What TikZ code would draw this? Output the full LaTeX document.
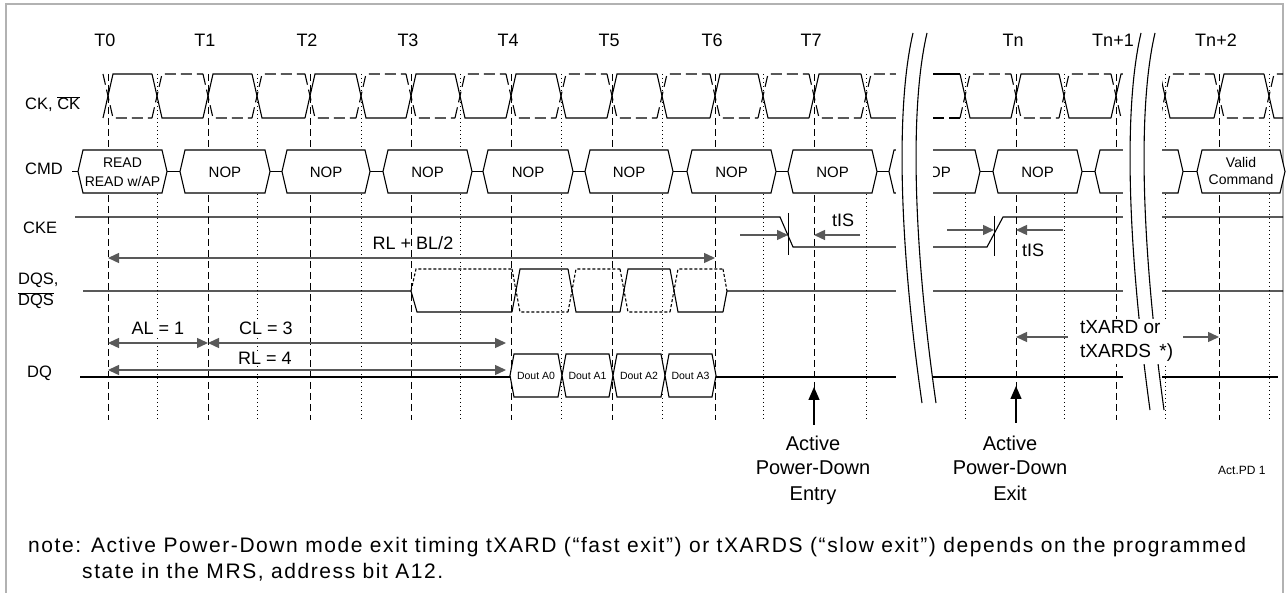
\documentclass[tikz,border=0pt]{standalone}
\usepackage{fontspec}
\setmainfont{Liberation Sans}
\newfontfamily\notefont[LetterSpace=7.5]{Liberation Sans}
\usetikzlibrary{arrows.meta}

\newcommand\fsz[2]{\fontsize{#1}{#2}\selectfont}

% one run of CK / CK#, #1 = 1 when the first edge is a rising CK edge
\newcommand\clkrun[2]{%
  \foreach \c/\n [count=\i] in {#2}{%
    \pgfmathsetmacro\ya{mod(\i+#1,2)==0 ? 118 : 74}%
    \pgfmathsetmacro\yb{192-\ya}%
    \draw[sig] (\c-5,\ya) -- (\c+5,\yb) -- (\n-5,\yb);
    \draw[clkn] (\c-5,\yb) -- (\c+5,\ya) -- (\n-5,\ya);
  }}

% bus cell: left, right, top, bottom, tip
\newcommand\hexcell[5]{%
  \draw[sig,fill=white] (#1,{(#3+#4)/2}) -- (#1+#5,#3) -- (#2-#5,#3)
    -- (#2,{(#3+#4)/2}) -- (#2-#5,#4) -- (#1+#5,#4) -- cycle;}

\begin{document}
\begin{tikzpicture}[x=1pt,y=-1pt,
  every node/.style={inner sep=0pt},
  sig/.style={line width=1.1pt},
  clkn/.style={sig,dash pattern=on 11pt off 5pt},
  dqsn/.style={sig,dash pattern=on 3pt off 2pt},
  tline/.style={line width=0.9pt,dash pattern=on 7pt off 4pt},
  halfline/.style={line width=0.9pt,dash pattern=on 1.5pt off 2.5pt},
  dimc/.style={draw=black!65,line width=1.4pt},
  >={Triangle[length=11pt,width=10pt]},
  lbl/.style={font=\fsz{16.5}{20}},
  dimtxt/.style={font=\fsz{18}{22}}]
  \useasboundingbox (0,0) rectangle (1288,593);
  \draw[black!30,line width=1.2pt] (6,593) -- (6,4) -- (1283,4) -- (1283,593);

  % clock grid
  \foreach \n/\x in {0/108,1/208,2/310,3/411,4/511,5/612,6/715,7/814,n/1016,n1/1116,n2/1219}{
    \coordinate (T\n) at (\x,0);
    \draw[tline] (\x,74) -- (\x,420);
  }
  \foreach \x in {157,257,361,460,561,662,763,866,965,1064,1165,1269}
    \draw[halfline] (\x,74) -- (\x,420);
  \foreach \n/\t in {0/T0,1/T1,2/T2,3/T3,4/T4,5/T5,6/T6,7/T7,n/Tn,n1/Tn+1,n2/Tn+2}
    \node[anchor=base,xshift=-3pt,font=\fsz{18}{22}] (l\n) at (T\n |- 0,47) {\t};

  % signal names
  \node[lbl,anchor=base west] (ckname) at (25,110) {CK, \(\overline{\mbox{CK}}\)};
  \node[lbl,anchor=base west] (cmdname) at (25,175) {CMD};
  \node[lbl,anchor=base west] (ckename) at (23,234) {CKE};
  \node[lbl,anchor=base west] (dqsname) at (18,285) {DQS,};
  \node[lbl,anchor=base west] (dqsbname) at (18,306) {\(\overline{\mbox{DQS}}\)};
  \node[lbl,anchor=base west] (dqname) at (27,378) {DQ};

  % CK, CK#
  \clkrun{1}{108/157,157/208,208/257,257/310,310/361,361/411,411/460,460/511,
    511/561,561/612,612/662,662/715,715/763,763/814,814/866,866/902}
  \draw[sig] (933,74) -- (960,74);
  \draw[clkn] (933,118) -- (960,118);
  \clkrun{0}{965/1016,1016/1064,1064/1116,1116/1128}
  \clkrun{0}{1165/1219,1219/1269,1269/1288}

  % CMD
  \draw[sig] (72,171.5) -- (1285,171.5);
  \hexcell{78}{167}{150}{193}{5}
  \node[align=center,font=\fsz{14}{19}] (read) at (122.5,172) {READ\\READ w/AP};
  \foreach \a/\b [count=\i] in {180/270,282/370,383/472,483/573,585/673,687/776,
      788/877,889/980,993/1082,1095/1183}{
    \hexcell{\a}{\b}{150}{193}{5}
    \node[font=\fsz{15}{18}] (nop\i) at ({(\a+\b)/2},172) {NOP};
  }
  \hexcell{1197}{1285}{150}{193}{5}
  \node[align=center,font=\fsz{14}{17}] (valid) at (1241,171) {Valid\\Command};

  % CKE
  \draw[sig] (75,217) -- (780,217) -- (793,247) -- (987,247) -- (1003,217) -- (1283,217);
  \draw[line width=1pt] (788,213) -- (788,255);
  \draw[line width=1pt] (994,216) -- (994,256);
  \coordinate (pdin) at (788,235);
  \coordinate (pdout) at (994,230);

  % DQS, DQS#
  \draw[sig] (83,291) -- (411,291) -- (417,312) -- (512,312);
  \draw[dqsn] (411,291) -- (416,269) -- (512,269);
  \foreach \a/\b [count=\i] in {512/568,568/620,620/670,670/723}{
    \pgfmathsetmacro\ya{mod(\i,2)==1 ? 312 : 269}
    \pgfmathsetmacro\yb{581-\ya}
    \draw[sig] (\a,\ya) -- (\a+8,\yb) -- (\b,\yb);
    \draw[dqsn] (\a,\yb) -- (\a+8,\ya) -- (\b,\ya);
  }
  \draw[sig] (723,312) -- (727,291) -- (1283,291);
  \draw[dqsn] (723,269) -- (727,291);

  % DQ
  \draw[sig] (80,377) -- (510,377);
  \draw[sig] (716,377) -- (1278,377);
  \foreach \a/\b/\t in {510/562/A0,562/613/A1,613/665/A2,665/716/A3}{
    \hexcell{\a}{\b}{354}{397}{4}
    \node[font=\fsz{10.5}{12}] (d\t) at ({(\a+\b)/2},376) {Dout \t};
  }

  % breaks
  \fill[white] (896,60) rectangle (933,412);
  \fill[white] (1123,60) rectangle (1162,414);
  \foreach \dx/\ye in {0/403,228/410}
    \foreach \s in {0,14}
      \draw[line width=1.1pt] (913+\dx+\s,33) .. controls (895+\dx+\s,110) and (900+\dx+\s,250) .. (922+\dx+\s,\ye);

  % timing
  \draw[dimc,<->] (T0 |- 0,258) -- (T6 |- 0,258);
  \node[dimtxt,anchor=base] (rlbl) at (413,250) {RL + BL/2};
  \draw[dimc,<->] (T0 |- 0,343) -- (T1 |- 0,343);
  \draw[dimc,<->,shorten >=5pt] (T1 |- 0,343) -- (T4 |- 0,343);
  \draw[dimc,<->,shorten >=5pt] (T0 |- 0,370) -- (T4 |- 0,370);
  \node[dimtxt,anchor=base,fill=white,inner sep=1pt] (al) at (158,335) {AL = 1};
  \node[dimtxt,anchor=base,fill=white,inner sep=1pt] (cl) at (266,335) {CL = 3};
  \node[dimtxt,anchor=base,fill=white,inner sep=1pt] (rl) at (265,365) {RL = 4};

  \draw[dimc,->] (740,235) -- (pdin);
  \draw[dimc,->] (860,235) -- (T7 |- pdin);
  \node[dimtxt,anchor=base] (tisin) at (843,227) {tIS};
  \draw[dimc,->] (947,230) -- (pdout);
  \draw[dimc,->] (1063,230) -- (Tn |- pdout);
  \node[dimtxt,anchor=base] (tisout) at (1033,257) {tIS};

  \node[fill=white,inner sep=2pt,align=left,anchor=base west,font=\fsz{19}{24}] (txard)
    at (1078,358) {tXARD or\\tXARDS \,*)};
  \draw[dimc,->] (1068,337) -- (Tn |- 0,337);
  \draw[dimc,->] (1183,337) -- (Tn2 |- 0,337);

  % power-down markers
  \draw[line width=1.3pt,-{Triangle[length=13pt,width=11pt]}] (T7 |- 0,425) -- (T7 |- 0,387);
  \draw[line width=1.3pt,-{Triangle[length=13pt,width=11pt]}] (Tn |- 0,423) -- (Tn |- 0,386);
  \node[align=center,anchor=base,font=\fsz{20}{25}] (pdentry) at (813,500) {Active\\Power-Down\\Entry};
  \node[align=center,anchor=base,font=\fsz{20}{25}] (pdexit) at (1010,500) {Active\\Power-Down\\Exit};
  \node[anchor=base west,font=\fsz{12}{14}] (figid) at (1218,474) {Act.PD 1};

  % note
  \node[anchor=base west,font=\notefont\fsz{21}{26}] (note1) at (28,552)
    {note: Active Power-Down mode exit timing tXARD (“fast exit”) or tXARDS (“slow exit”) depends on the programmed};
  \node[anchor=base west,font=\notefont\fsz{21}{26}] (note2) at (82,578) {state in the MRS, address bit A12.};
\end{tikzpicture}
\end{document}
